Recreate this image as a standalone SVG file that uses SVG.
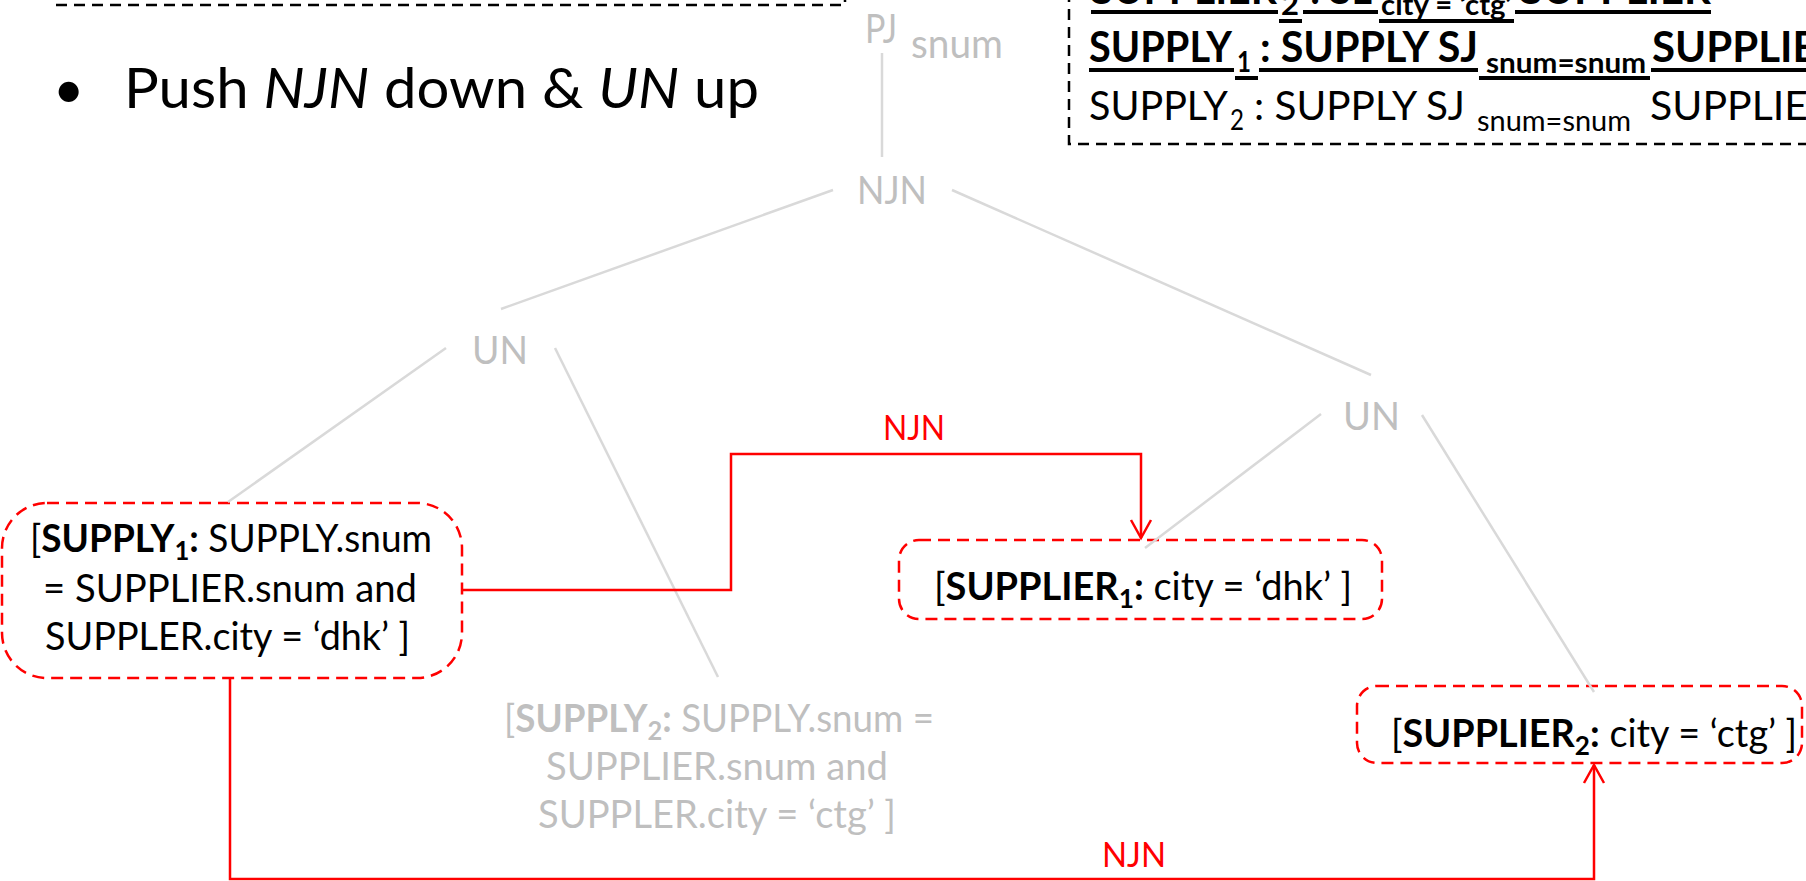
<svg xmlns="http://www.w3.org/2000/svg" width="1806" height="881" viewBox="0 0 1806 881">
  <defs>
    <style>
      text { font-family: Lato, "Open Sans", "Liberation Sans", sans-serif; }
      .g { fill: #BFBFBF; }
      .k { fill: #000000; }
      .r { fill: #FF0000; }
      .b { font-weight: bold; }
      .i { font-style: italic; }
      .tree { stroke: #D9D9D9; stroke-width: 2.5; fill: none; }
      .red { stroke: #FF0000; stroke-width: 2.5; fill: none; }
      .rbox { fill: none; stroke: #FF0000; stroke-width: 2.5; stroke-dasharray: 12 7; }
      .kbox { fill: none; stroke: #000000; stroke-width: 2.5; stroke-dasharray: 11 7; }
      .ul { stroke: #000000; stroke-width: 4; }
    </style>
    <marker id="open-arrow" viewBox="-2 -2 24 24" refX="18" refY="10" markerWidth="24" markerHeight="24" markerUnits="userSpaceOnUse" orient="auto" overflow="visible">
      <path d="M0,0 L18,10 L0,20" fill="none" stroke="#FF0000" stroke-width="2.5"/>
    </marker>
  </defs>

  <rect width="1806" height="881" fill="#FFFFFF"/>

  <!-- notes box running off the top-left: only its lower edge and right side show -->
  <g id="note-top-left">
    <path class="kbox" d="M56,5 H845 V-20"/>
  </g>

  <!-- bullet point -->
  <g id="bullet">
    <text x="53" y="108" font-size="54" class="k">•</text>
    <text x="124" y="108" font-size="57" class="k" textLength="635" lengthAdjust="spacingAndGlyphs">Push <tspan class="i">NJN</tspan> down &amp; <tspan class="i">UN</tspan> up</text>
  </g>

  <!-- notes box running off the top-right -->
  <g id="note-top-right">
    <rect class="kbox" x="1069" y="-200" width="900" height="344"/>
    <!-- line 0 -->
    <text x="1091" y="4" font-size="42" class="k b" textLength="186" lengthAdjust="spacingAndGlyphs">SUPPLIER</text>
    <text x="1281" y="15" font-size="29" class="k b" textLength="18" lengthAdjust="spacingAndGlyphs">2</text>
    <text x="1310" y="4" font-size="42" class="k b" textLength="62" lengthAdjust="spacingAndGlyphs">: SL</text>
    <text x="1381" y="15" font-size="29" class="k b" textLength="131" lengthAdjust="spacingAndGlyphs">city = ‘ctg’</text>
    <text x="1520" y="4" font-size="42" class="k b" textLength="191" lengthAdjust="spacingAndGlyphs">SUPPLIER</text>
    <!-- line 1 -->
    <text x="1089" y="62" font-size="42" class="k b" textLength="143" lengthAdjust="spacingAndGlyphs">SUPPLY</text>
    <text x="1237" y="72" font-size="29" class="k b" textLength="14" lengthAdjust="spacingAndGlyphs">1</text>
    <text x="1260" y="62" font-size="42" class="k b" textLength="218" lengthAdjust="spacingAndGlyphs">: SUPPLY SJ</text>
    <text x="1486" y="73" font-size="29" class="k b" textLength="160" lengthAdjust="spacingAndGlyphs">snum=snum</text>
    <text x="1652" y="62" font-size="42" class="k b">SUPPLIER</text>
    <!-- line 2 -->
    <text x="1089" y="120" font-size="41" class="k" textLength="139" lengthAdjust="spacingAndGlyphs">SUPPLY</text>
    <text x="1230" y="130" font-size="29" class="k" textLength="14" lengthAdjust="spacingAndGlyphs">2</text>
    <text x="1254" y="120" font-size="41" class="k" textLength="211" lengthAdjust="spacingAndGlyphs">: SUPPLY SJ</text>
    <text x="1477" y="131" font-size="29" class="k" textLength="154" lengthAdjust="spacingAndGlyphs">snum=snum</text>
    <text x="1650" y="120" font-size="41" class="k">SUPPLIER</text>
    <!-- underlines of the bold lines -->
    <g class="ul">
      <line x1="1091" y1="12" x2="1278" y2="12"/>
      <line x1="1279" y1="21" x2="1302" y2="21"/>
      <line x1="1303" y1="12" x2="1378" y2="12"/>
      <line x1="1379" y1="21" x2="1514" y2="21"/>
      <line x1="1515" y1="12" x2="1711" y2="12"/>
      <line x1="1089" y1="70" x2="1234" y2="70"/>
      <line x1="1235" y1="78" x2="1258" y2="78"/>
      <line x1="1259" y1="70" x2="1478" y2="70"/>
      <line x1="1479" y1="78" x2="1650" y2="78"/>
      <line x1="1651" y1="70" x2="1806" y2="70"/>
    </g>
  </g>

  <!-- operator tree -->
  <g id="pj">
    <text x="865" y="43" font-size="40" class="g" textLength="32" lengthAdjust="spacingAndGlyphs">PJ</text>
    <text x="911" y="58" font-size="40" class="g" textLength="92" lengthAdjust="spacingAndGlyphs">snum</text>
  </g>
  <g id="njn">
    <text x="857" y="204" font-size="39" class="g" textLength="70" lengthAdjust="spacingAndGlyphs">NJN</text>
  </g>
  <g id="un-left">
    <text x="472" y="364" font-size="39" class="g" textLength="56" lengthAdjust="spacingAndGlyphs">UN</text>
  </g>
  <g id="un-right">
    <text x="1343" y="430" font-size="39" class="g" textLength="57" lengthAdjust="spacingAndGlyphs">UN</text>
  </g>

  <!-- leaf fragments -->
  <g id="supply1">
    <rect class="rbox" x="2" y="503" width="460" height="175" rx="45" ry="45"/>
    <text x="30" y="552" font-size="39" class="k" textLength="402" lengthAdjust="spacingAndGlyphs">[<tspan class="b">SUPPLY</tspan><tspan class="b" font-size="27" dy="8">1</tspan><tspan class="b" dy="-8">:</tspan> SUPPLY.snum</text>
    <text x="43" y="602" font-size="39" class="k" textLength="374" lengthAdjust="spacingAndGlyphs">= SUPPLIER.snum and</text>
    <text x="45" y="650" font-size="39" class="k" textLength="365" lengthAdjust="spacingAndGlyphs">SUPPLER.city = ‘dhk’ ]</text>
  </g>

  <g id="supplier1">
    <rect class="rbox" x="899" y="540" width="483" height="79" rx="20" ry="20"/>
    <text x="934" y="600" font-size="39" class="k" textLength="418" lengthAdjust="spacingAndGlyphs">[<tspan class="b">SUPPLIER</tspan><tspan class="b" font-size="27" dy="8">1</tspan><tspan class="b" dy="-8">:</tspan> city = ‘dhk’ ]</text>
  </g>

  <g id="supply2">
    <text x="504" y="732" font-size="39" class="g" textLength="430" lengthAdjust="spacingAndGlyphs">[<tspan class="b">SUPPLY</tspan><tspan class="b" font-size="27" dy="8">2</tspan><tspan class="b" dy="-8">:</tspan> SUPPLY.snum =</text>
    <text x="546" y="780" font-size="39" class="g" textLength="342" lengthAdjust="spacingAndGlyphs">SUPPLIER.snum and</text>
    <text x="538" y="828" font-size="39" class="g" textLength="358" lengthAdjust="spacingAndGlyphs">SUPPLER.city = ‘ctg’ ]</text>
  </g>

  <g id="supplier2">
    <rect class="rbox" x="1357" y="686" width="445" height="77" rx="20" ry="20"/>
    <text x="1391" y="747" font-size="39" class="k" textLength="406" lengthAdjust="spacingAndGlyphs">[<tspan class="b">SUPPLIER</tspan><tspan class="b" font-size="27" dy="8">2</tspan><tspan class="b" dy="-8">:</tspan> city = ‘ctg’ ]</text>
  </g>

  <!-- edges of the tree and the pushed-down joins -->
  <g id="connectors">
    <line class="tree" x1="882" y1="53" x2="882" y2="157"/>
    <line class="tree" x1="833" y1="190" x2="501" y2="309"/>
    <line class="tree" x1="952" y1="190" x2="1371" y2="375"/>
    <line class="tree" x1="446" y1="348" x2="228" y2="502"/>
    <line class="tree" x1="555" y1="348" x2="718" y2="677"/>
    <line class="tree" x1="1321" y1="414" x2="1145" y2="548"/>
    <line class="tree" x1="1422" y1="415" x2="1594" y2="692"/>

    <path class="red" d="M462,590 H731 V454 H1141 V538" marker-end="url(#open-arrow)"/>
    <text x="883" y="440" font-size="34" class="r" textLength="62" lengthAdjust="spacingAndGlyphs">NJN</text>

    <path class="red" d="M230,678 V879 H1594 V765" marker-end="url(#open-arrow)"/>
    <text x="1102" y="867" font-size="34" class="r" textLength="64" lengthAdjust="spacingAndGlyphs">NJN</text>
  </g>
</svg>
